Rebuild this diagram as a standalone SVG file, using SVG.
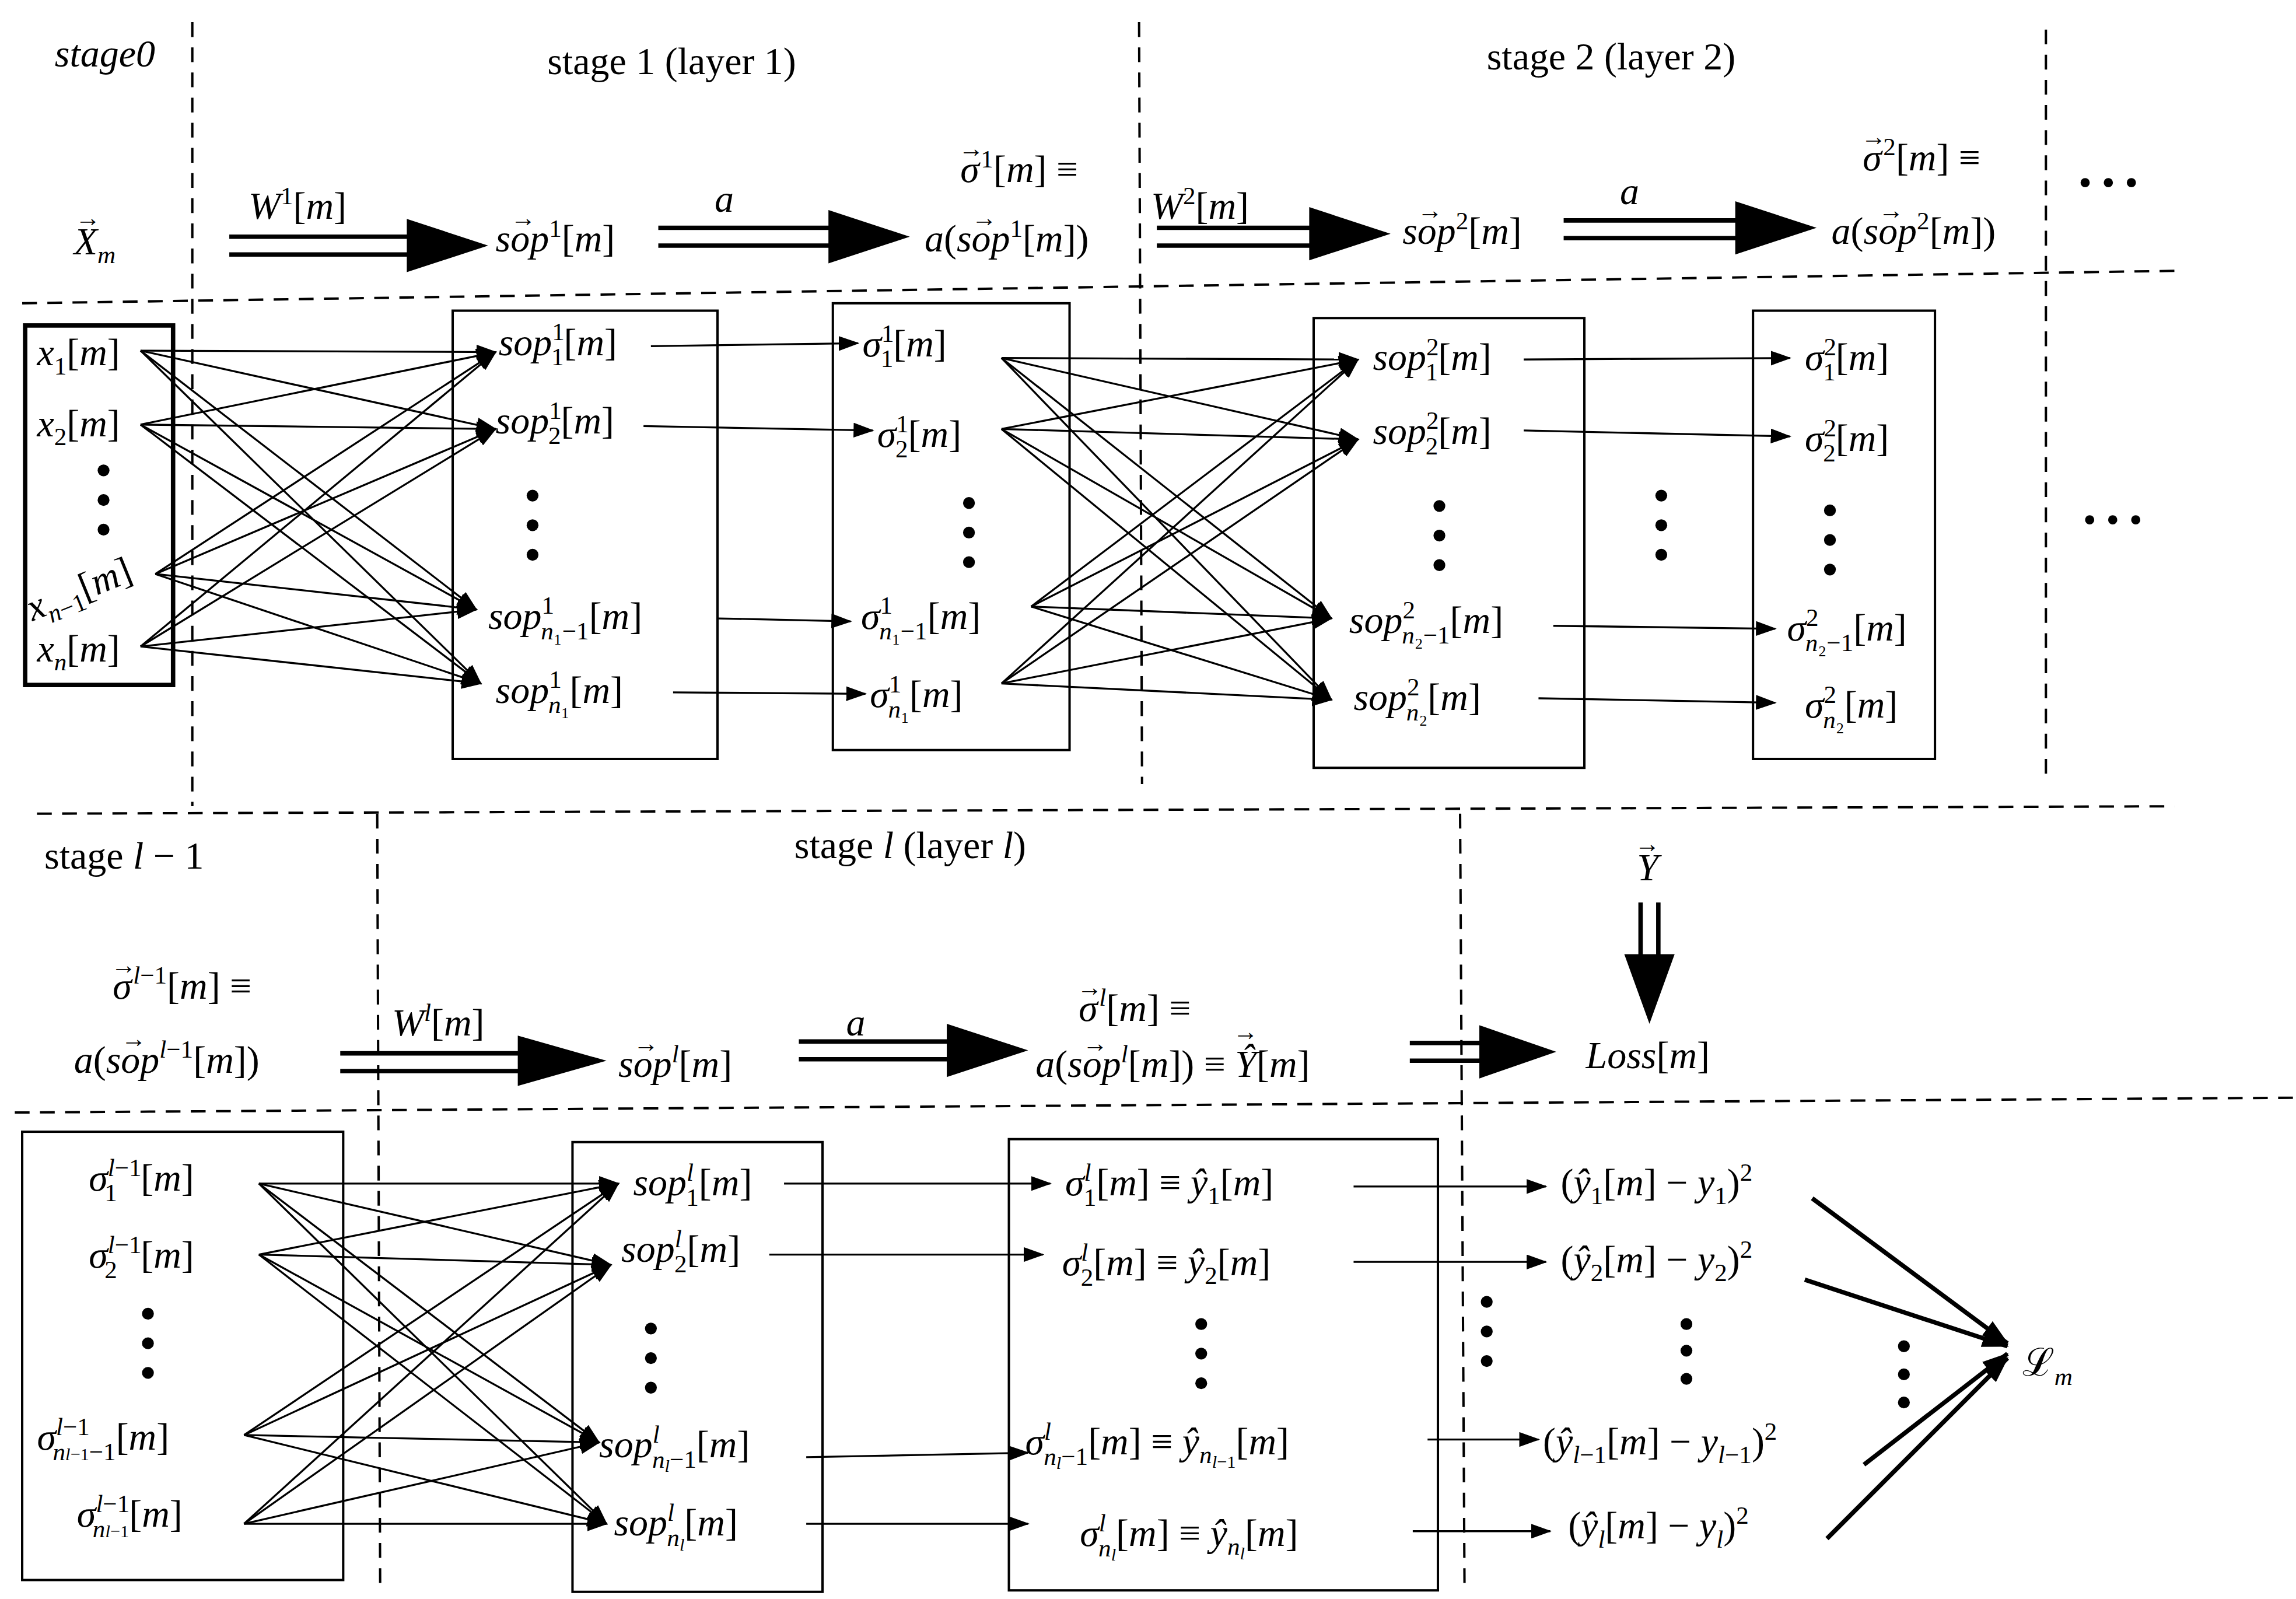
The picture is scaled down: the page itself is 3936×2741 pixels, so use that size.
<svg xmlns="http://www.w3.org/2000/svg" width="3936" height="2741" viewBox="0 0 3936 2741">
<style>
text{font-family:"Liberation Serif",serif;font-size:26px;fill:#000}
.i{font-style:italic}
.s{font-size:17px}
.v{font-size:17px;font-style:normal}
.d{stroke:#000;stroke-width:1.6;stroke-dasharray:10 7;fill:none}
.b{fill:none;stroke:#000;stroke-width:1.6}
.c line{stroke:#000;stroke-width:1.3;marker-end:url(#ah)}
.dl{stroke:#000;stroke-width:3;fill:none}
.k line{stroke:#000;stroke-width:3;marker-end:url(#ah2)}
</style>
<defs>
<marker id="ah" markerWidth="14" markerHeight="10" refX="13" refY="5" orient="auto" markerUnits="userSpaceOnUse"><path d="M0,0 L14,5 L0,10 Z"/></marker>
<marker id="ah2" markerWidth="18" markerHeight="12" refX="17" refY="6" orient="auto" markerUnits="userSpaceOnUse"><path d="M0,0 L18,6 L0,12 Z"/></marker>
</defs>
<rect width="3936" height="2741" fill="#fff"/>
<g transform="scale(2.536)">
<g id="grid">
<line class="d" x1="130" y1="15" x2="130" y2="545"/>
<line class="d" x1="770" y1="15" x2="772" y2="530"/>
<line class="d" x1="1383" y1="20" x2="1383" y2="530"/>
<line class="d" x1="15" y1="205" x2="1475" y2="183"/>
<line class="d" x1="25" y1="550" x2="1470" y2="545"/>
<line class="d" x1="255" y1="550" x2="257" y2="1075"/>
<line class="d" x1="987" y1="550" x2="990" y2="1075"/>
<line class="d" x1="10" y1="752" x2="1550" y2="742"/>
</g>
<g id="labels">
<text x="37" y="45" class="i">stage0</text>
<text x="370" y="50">stage 1 (layer 1)</text>
<text x="1005" y="47">stage 2 (layer 2)</text>
<text x="50" y="172" class="i">X<tspan class="v" dx="-15" dy="-19">→</tspan><tspan class="s" dx="-2" dy="25">m</tspan></text>
<text x="168" y="148" class="i">W<tspan class="s" dy="-10" font-style="normal">1</tspan><tspan dy="10" font-style="normal">[</tspan>m<tspan font-style="normal">]</tspan></text>
<text x="335" y="170" class="i">so<tspan class="v" dx="-13" dy="-17">→</tspan><tspan dx="-4" dy="17">p</tspan><tspan class="s" dy="-10" font-style="normal">1</tspan><tspan dy="10" font-style="normal">[</tspan>m<tspan font-style="normal">]</tspan></text>
<text x="483" y="143" class="i">a</text>
<text x="648" y="123" class="i">σ<tspan class="v" dx="-14" dy="-17">→</tspan><tspan class="s" dx="-2" dy="7" font-style="normal">1</tspan><tspan dy="10" font-style="normal">[</tspan>m<tspan font-style="normal">] ≡</tspan></text>
<text x="625" y="170" class="i">a<tspan font-style="normal">(</tspan>so<tspan class="v" dx="-13" dy="-17">→</tspan><tspan dx="-4" dy="17">p</tspan><tspan class="s" dy="-10" font-style="normal">1</tspan><tspan dy="10" font-style="normal">[</tspan>m<tspan font-style="normal">])</tspan></text>
<text x="778" y="148" class="i">W<tspan class="s" dy="-10" font-style="normal">2</tspan><tspan dy="10" font-style="normal">[</tspan>m<tspan font-style="normal">]</tspan></text>
<text x="948" y="165" class="i">so<tspan class="v" dx="-13" dy="-17">→</tspan><tspan dx="-4" dy="17">p</tspan><tspan class="s" dy="-10" font-style="normal">2</tspan><tspan dy="10" font-style="normal">[</tspan>m<tspan font-style="normal">]</tspan></text>
<text x="1095" y="138" class="i">a</text>
<text x="1258" y="115" class="i">σ<tspan class="v" dx="-14" dy="-17">→</tspan><tspan class="s" dx="-2" dy="7" font-style="normal">2</tspan><tspan dy="10" font-style="normal">[</tspan>m<tspan font-style="normal">] ≡</tspan></text>
<text x="1238" y="165" class="i">a<tspan font-style="normal">(</tspan>so<tspan class="v" dx="-13" dy="-17">→</tspan><tspan dx="-4" dy="17">p</tspan><tspan class="s" dy="-10" font-style="normal">2</tspan><tspan dy="10" font-style="normal">[</tspan>m<tspan font-style="normal">])</tspan></text>
<text x="1405" y="132" font-size="40">• • •</text>
<text x="1408" y="360" font-size="40">• • •</text>
<text x="30" y="587">stage <tspan class="i">l</tspan> − 1</text>
<text x="537" y="580">stage <tspan class="i">l</tspan> (layer <tspan class="i">l</tspan>)</text>
<text x="1105" y="595" class="i">Y<tspan class="v" dx="-16" dy="-19">→</tspan></text>
<text x="75" y="675" class="i">σ<tspan class="v" dx="-14" dy="-17">→</tspan><tspan class="s" dx="-2" dy="7">l</tspan><tspan class="s" font-style="normal">−1</tspan><tspan dy="10" font-style="normal">[</tspan>m<tspan font-style="normal">] ≡</tspan></text>
<text x="50" y="725" class="i">a<tspan font-style="normal">(</tspan>so<tspan class="v" dx="-13" dy="-17">→</tspan><tspan dx="-4" dy="17">p</tspan><tspan class="s" dy="-10">l</tspan><tspan class="s" font-style="normal">−1</tspan><tspan dy="10" font-style="normal">[</tspan>m<tspan font-style="normal">])</tspan></text>
<text x="265" y="700" class="i">W<tspan class="s" dy="-10">l</tspan><tspan dy="10" font-style="normal">[</tspan>m<tspan font-style="normal">]</tspan></text>
<text x="418" y="728" class="i">so<tspan class="v" dx="-13" dy="-17">→</tspan><tspan dx="-4" dy="17">p</tspan><tspan class="s" dy="-10">l</tspan><tspan dy="10" font-style="normal">[</tspan>m<tspan font-style="normal">]</tspan></text>
<text x="572" y="700" class="i">a</text>
<text x="728" y="690" class="i">σ<tspan class="v" dx="-14" dy="-17">→</tspan><tspan class="s" dx="-2" dy="7">l</tspan><tspan dy="10" font-style="normal">[</tspan>m<tspan font-style="normal">] ≡</tspan></text>
<text x="700" y="728" class="i">a<tspan font-style="normal">(</tspan>so<tspan class="v" dx="-13" dy="-17">→</tspan><tspan dx="-4" dy="17">p</tspan><tspan class="s" dy="-10">l</tspan><tspan dy="10" font-style="normal">[</tspan>m<tspan font-style="normal">]) ≡ </tspan>Ŷ<tspan class="v" dx="-16" dy="-25">→</tspan><tspan dx="-1" dy="25" font-style="normal">[</tspan>m<tspan font-style="normal">]</tspan></text>
<text x="1072" y="722" class="i">Loss<tspan font-style="normal">[</tspan>m<tspan font-style="normal">]</tspan></text>
</g>
<g id="dots">
<circle cx="70" cy="318" r="4"/><circle cx="70" cy="338" r="4"/><circle cx="70" cy="358" r="4"/>
<circle cx="360" cy="335" r="4"/><circle cx="360" cy="355" r="4"/><circle cx="360" cy="375" r="4"/>
<circle cx="655" cy="340" r="4"/><circle cx="655" cy="360" r="4"/><circle cx="655" cy="380" r="4"/>
<circle cx="973" cy="342" r="4"/><circle cx="973" cy="362" r="4"/><circle cx="973" cy="382" r="4"/>
<circle cx="1123" cy="335" r="4"/><circle cx="1123" cy="355" r="4"/><circle cx="1123" cy="375" r="4"/>
<circle cx="1237" cy="345" r="4"/><circle cx="1237" cy="365" r="4"/><circle cx="1237" cy="385" r="4"/>
<circle cx="100" cy="888" r="4"/><circle cx="100" cy="908" r="4"/><circle cx="100" cy="928" r="4"/>
<circle cx="440" cy="898" r="4"/><circle cx="440" cy="918" r="4"/><circle cx="440" cy="938" r="4"/>
<circle cx="812" cy="895" r="4"/><circle cx="812" cy="915" r="4"/><circle cx="812" cy="935" r="4"/>
<circle cx="1005" cy="880" r="4"/><circle cx="1005" cy="900" r="4"/><circle cx="1005" cy="920" r="4"/>
<circle cx="1140" cy="895" r="4"/><circle cx="1140" cy="913" r="4"/><circle cx="1140" cy="932" r="4"/>
<circle cx="1287" cy="910" r="4"/><circle cx="1287" cy="929" r="4"/><circle cx="1287" cy="948" r="4"/>
</g>
<g id="box0"><rect x="17" y="220" width="100" height="243" fill="none" stroke="#000" stroke-width="3"/>
<text x="25" y="247" class="i">x<tspan class="s" dy="6" font-style="normal">1</tspan><tspan dy="-6" font-style="normal">[</tspan>m<tspan font-style="normal">]</tspan></text>
<text x="25" y="295" class="i">x<tspan class="s" dy="6" font-style="normal">2</tspan><tspan dy="-6" font-style="normal">[</tspan>m<tspan font-style="normal">]</tspan></text>
<text x="22" y="420" class="i" transform="rotate(-22 22 420)">x<tspan class="s" dy="6">n</tspan><tspan class="s" font-style="normal">−1</tspan><tspan dy="-6" font-style="normal">[</tspan>m<tspan font-style="normal">]</tspan></text>
<text x="25" y="447" class="i">x<tspan class="s" dy="6">n</tspan><tspan dy="-6" font-style="normal">[</tspan>m<tspan font-style="normal">]</tspan></text>
</g>
<g id="box1"><rect class="b" x="306" y="210" width="179" height="303"/>
<text x="337" y="240" class="i">sop<tspan class="s" dy="-10" font-style="normal">1</tspan><tspan class="s" dx="-9" dy="17" font-style="normal">1</tspan><tspan dy="-7" font-style="normal">[</tspan>m<tspan font-style="normal">]</tspan></text>
<text x="335" y="293" class="i">sop<tspan class="s" dy="-10" font-style="normal">1</tspan><tspan class="s" dx="-9" dy="17" font-style="normal">2</tspan><tspan dy="-7" font-style="normal">[</tspan>m<tspan font-style="normal">]</tspan></text>
<text x="330" y="425" class="i">sop<tspan class="s" dy="-10" font-style="normal">1</tspan><tspan class="s" dx="-9" dy="17">n</tspan><tspan class="s" font-style="normal">₁−1</tspan><tspan dy="-7" font-style="normal">[</tspan>m<tspan font-style="normal">]</tspan></text>
<text x="335" y="475" class="i">sop<tspan class="s" dy="-10" font-style="normal">1</tspan><tspan class="s" dx="-9" dy="17">n</tspan><tspan class="s" font-style="normal">₁</tspan><tspan dy="-7" font-style="normal">[</tspan>m<tspan font-style="normal">]</tspan></text>
</g>
<g id="box2"><rect class="b" x="563" y="205" width="160" height="302"/>
<text x="583" y="241" class="i">σ<tspan class="s" dy="-10" font-style="normal">1</tspan><tspan class="s" dx="-9" dy="17" font-style="normal">1</tspan><tspan dy="-7" font-style="normal">[</tspan>m<tspan font-style="normal">]</tspan></text>
<text x="593" y="302" class="i">σ<tspan class="s" dy="-10" font-style="normal">1</tspan><tspan class="s" dx="-9" dy="17" font-style="normal">2</tspan><tspan dy="-7" font-style="normal">[</tspan>m<tspan font-style="normal">]</tspan></text>
<text x="582" y="425" class="i">σ<tspan class="s" dy="-10" font-style="normal">1</tspan><tspan class="s" dx="-9" dy="17">n</tspan><tspan class="s" font-style="normal">₁−1</tspan><tspan dy="-7" font-style="normal">[</tspan>m<tspan font-style="normal">]</tspan></text>
<text x="588" y="478" class="i">σ<tspan class="s" dy="-10" font-style="normal">1</tspan><tspan class="s" dx="-9" dy="17">n</tspan><tspan class="s" font-style="normal">₁</tspan><tspan dy="-7" font-style="normal">[</tspan>m<tspan font-style="normal">]</tspan></text>
</g>
<g id="box3"><rect class="b" x="888" y="215" width="183" height="304"/>
<text x="928" y="250" class="i">sop<tspan class="s" dy="-10" font-style="normal">2</tspan><tspan class="s" dx="-9" dy="17" font-style="normal">1</tspan><tspan dy="-7" font-style="normal">[</tspan>m<tspan font-style="normal">]</tspan></text>
<text x="928" y="300" class="i">sop<tspan class="s" dy="-10" font-style="normal">2</tspan><tspan class="s" dx="-9" dy="17" font-style="normal">2</tspan><tspan dy="-7" font-style="normal">[</tspan>m<tspan font-style="normal">]</tspan></text>
<text x="912" y="428" class="i">sop<tspan class="s" dy="-10" font-style="normal">2</tspan><tspan class="s" dx="-9" dy="17">n</tspan><tspan class="s" font-style="normal">₂−1</tspan><tspan dy="-7" font-style="normal">[</tspan>m<tspan font-style="normal">]</tspan></text>
<text x="915" y="480" class="i">sop<tspan class="s" dy="-10" font-style="normal">2</tspan><tspan class="s" dx="-9" dy="17">n</tspan><tspan class="s" font-style="normal">₂</tspan><tspan dy="-7" font-style="normal">[</tspan>m<tspan font-style="normal">]</tspan></text>
</g>
<g id="box4"><rect class="b" x="1185" y="210" width="123" height="303"/>
<text x="1220" y="250" class="i">σ<tspan class="s" dy="-10" font-style="normal">2</tspan><tspan class="s" dx="-9" dy="17" font-style="normal">1</tspan><tspan dy="-7" font-style="normal">[</tspan>m<tspan font-style="normal">]</tspan></text>
<text x="1220" y="305" class="i">σ<tspan class="s" dy="-10" font-style="normal">2</tspan><tspan class="s" dx="-9" dy="17" font-style="normal">2</tspan><tspan dy="-7" font-style="normal">[</tspan>m<tspan font-style="normal">]</tspan></text>
<text x="1208" y="433" class="i">σ<tspan class="s" dy="-10" font-style="normal">2</tspan><tspan class="s" dx="-9" dy="17">n</tspan><tspan class="s" font-style="normal">₂−1</tspan><tspan dy="-7" font-style="normal">[</tspan>m<tspan font-style="normal">]</tspan></text>
<text x="1220" y="485" class="i">σ<tspan class="s" dy="-10" font-style="normal">2</tspan><tspan class="s" dx="-9" dy="17">n</tspan><tspan class="s" font-style="normal">₂</tspan><tspan dy="-7" font-style="normal">[</tspan>m<tspan font-style="normal">]</tspan></text>
</g>
<g id="box5"><rect class="b" x="15" y="765" width="217" height="303"/>
<text x="60" y="805" class="i">σ<tspan class="s" dy="-10">l</tspan><tspan class="s" font-style="normal">−1</tspan><tspan class="s" dx="-25" dy="17" font-style="normal">1</tspan><tspan dx="16" dy="-7" font-style="normal">[</tspan>m<tspan font-style="normal">]</tspan></text>
<text x="60" y="857" class="i">σ<tspan class="s" dy="-10">l</tspan><tspan class="s" font-style="normal">−1</tspan><tspan class="s" dx="-25" dy="17" font-style="normal">2</tspan><tspan dx="16" dy="-7" font-style="normal">[</tspan>m<tspan font-style="normal">]</tspan></text>
<text x="25" y="980" class="i">σ<tspan class="s" dy="-10">l</tspan><tspan class="s" font-style="normal">−1</tspan><tspan class="s" dx="-25" dy="17">n</tspan><tspan class="i" font-size="12">l</tspan><tspan font-style="normal" font-size="12">−1</tspan><tspan class="s" font-style="normal">−1</tspan><tspan dy="-7" font-style="normal">[</tspan>m<tspan font-style="normal">]</tspan></text>
<text x="52" y="1032" class="i">σ<tspan class="s" dy="-10">l</tspan><tspan class="s" font-style="normal">−1</tspan><tspan class="s" dx="-25" dy="17">n</tspan><tspan class="i" font-size="12">l</tspan><tspan font-style="normal" font-size="12">−1</tspan><tspan dy="-7" font-style="normal">[</tspan>m<tspan font-style="normal">]</tspan></text>
</g>
<g id="box6"><rect class="b" x="387" y="772" width="169" height="304"/>
<text x="428" y="808" class="i">sop<tspan class="s" dy="-10">l</tspan><tspan class="s" dx="-5" dy="17" font-style="normal">1</tspan><tspan dy="-7" font-style="normal">[</tspan>m<tspan font-style="normal">]</tspan></text>
<text x="420" y="853" class="i">sop<tspan class="s" dy="-10">l</tspan><tspan class="s" dx="-5" dy="17" font-style="normal">2</tspan><tspan dy="-7" font-style="normal">[</tspan>m<tspan font-style="normal">]</tspan></text>
<text x="405" y="985" class="i">sop<tspan class="s" dy="-10">l</tspan><tspan class="s" dx="-5" dy="17">n</tspan><tspan font-size="12" dy="3">l</tspan><tspan class="s" font-style="normal" dy="-3">−1</tspan><tspan dy="-7" font-style="normal">[</tspan>m<tspan font-style="normal">]</tspan></text>
<text x="415" y="1038" class="i">sop<tspan class="s" dy="-10">l</tspan><tspan class="s" dx="-5" dy="17">n</tspan><tspan font-size="12" dy="3">l</tspan><tspan dy="-10" font-style="normal">[</tspan>m<tspan font-style="normal">]</tspan></text>
</g>
<g id="box7"><rect class="b" x="682" y="770" width="290" height="305"/>
<text x="720" y="808" class="i">σ<tspan class="s" dy="-10">l</tspan><tspan class="s" dx="-5" dy="17" font-style="normal">1</tspan><tspan dy="-7" font-style="normal">[</tspan>m<tspan font-style="normal">] ≡ </tspan>ŷ<tspan class="s" dy="6" font-style="normal">1</tspan><tspan dy="-6" font-style="normal">[</tspan>m<tspan font-style="normal">]</tspan></text>
<text x="718" y="862" class="i">σ<tspan class="s" dy="-10">l</tspan><tspan class="s" dx="-5" dy="17" font-style="normal">2</tspan><tspan dy="-7" font-style="normal">[</tspan>m<tspan font-style="normal">] ≡ </tspan>ŷ<tspan class="s" dy="6" font-style="normal">2</tspan><tspan dy="-6" font-style="normal">[</tspan>m<tspan font-style="normal">]</tspan></text>
<text x="693" y="983" class="i">σ<tspan class="s" dy="-10">l</tspan><tspan class="s" dx="-5" dy="17">n</tspan><tspan font-size="12" dy="3">l</tspan><tspan class="s" font-style="normal" dy="-3">−1</tspan><tspan dy="-7" font-style="normal">[</tspan>m<tspan font-style="normal">] ≡ </tspan>ŷ<tspan class="s" dy="6">n</tspan><tspan font-size="12" dy="3">l</tspan><tspan font-size="12" font-style="normal">−1</tspan><tspan dy="-9" font-style="normal">[</tspan>m<tspan font-style="normal">]</tspan></text>
<text x="730" y="1045" class="i">σ<tspan class="s" dy="-10">l</tspan><tspan class="s" dx="-5" dy="17">n</tspan><tspan font-size="12" dy="3">l</tspan><tspan dy="-10" font-style="normal">[</tspan>m<tspan font-style="normal">] ≡ </tspan>ŷ<tspan class="s" dy="6">n</tspan><tspan font-size="12" dy="3">l</tspan><tspan dy="-9" font-style="normal">[</tspan>m<tspan font-style="normal">]</tspan></text>
</g>
<g id="losses">
<text x="1055" y="808"><tspan>(</tspan><tspan class="i">ŷ</tspan><tspan class="s" dy="6">1</tspan><tspan dy="-6">[</tspan><tspan class="i">m</tspan>] − <tspan class="i">y</tspan><tspan class="s" dy="6">1</tspan><tspan dy="-6">)</tspan><tspan class="s" dy="-10">2</tspan></text>
<text x="1055" y="860"><tspan>(</tspan><tspan class="i">ŷ</tspan><tspan class="s" dy="6">2</tspan><tspan dy="-6">[</tspan><tspan class="i">m</tspan>] − <tspan class="i">y</tspan><tspan class="s" dy="6">2</tspan><tspan dy="-6">)</tspan><tspan class="s" dy="-10">2</tspan></text>
<text x="1043" y="983"><tspan>(</tspan><tspan class="i">ŷ</tspan><tspan class="s i" dy="6">l</tspan><tspan class="s">−1</tspan><tspan dy="-6">[</tspan><tspan class="i">m</tspan>] − <tspan class="i">y</tspan><tspan class="s i" dy="6">l</tspan><tspan class="s">−1</tspan><tspan dy="-6">)</tspan><tspan class="s" dy="-10">2</tspan></text>
<text x="1060" y="1040"><tspan>(</tspan><tspan class="i">ŷ</tspan><tspan class="s i" dy="6">l</tspan><tspan dy="-6">[</tspan><tspan class="i">m</tspan>] − <tspan class="i">y</tspan><tspan class="s i" dy="6">l</tspan><tspan dy="-6">)</tspan><tspan class="s" dy="-10">2</tspan></text>
</g>
<g id="Lm"><text x="1367" y="930" font-size="28">ℒ<tspan class="s i" dy="6">m</tspan></text></g>
<g id="connectors">
<g class="c">
<line x1="95" y1="237" x2="335" y2="238"/><line x1="95" y1="237" x2="335" y2="290"/><line x1="95" y1="237" x2="322" y2="412"/><line x1="95" y1="237" x2="325" y2="462"/>
<line x1="95" y1="287" x2="335" y2="238"/><line x1="95" y1="287" x2="335" y2="290"/><line x1="95" y1="287" x2="322" y2="412"/><line x1="95" y1="287" x2="325" y2="462"/>
<line x1="105" y1="388" x2="335" y2="238"/><line x1="105" y1="388" x2="335" y2="290"/><line x1="105" y1="388" x2="322" y2="412"/><line x1="105" y1="388" x2="325" y2="462"/>
<line x1="95" y1="437" x2="335" y2="238"/><line x1="95" y1="437" x2="335" y2="290"/><line x1="95" y1="437" x2="322" y2="412"/><line x1="95" y1="437" x2="325" y2="462"/>
<line x1="440" y1="234" x2="580" y2="232"/><line x1="435" y1="288" x2="590" y2="291"/><line x1="485" y1="418" x2="575" y2="420"/><line x1="455" y1="468" x2="585" y2="469"/>
<line x1="677" y1="242" x2="918" y2="243"/><line x1="677" y1="242" x2="918" y2="297"/><line x1="677" y1="242" x2="900" y2="418"/><line x1="677" y1="242" x2="900" y2="473"/>
<line x1="677" y1="290" x2="918" y2="243"/><line x1="677" y1="290" x2="918" y2="297"/><line x1="677" y1="290" x2="900" y2="418"/><line x1="677" y1="290" x2="900" y2="473"/>
<line x1="697" y1="410" x2="918" y2="243"/><line x1="697" y1="410" x2="918" y2="297"/><line x1="697" y1="410" x2="900" y2="418"/><line x1="697" y1="410" x2="900" y2="473"/>
<line x1="677" y1="462" x2="918" y2="243"/><line x1="677" y1="462" x2="918" y2="297"/><line x1="677" y1="462" x2="900" y2="418"/><line x1="677" y1="462" x2="900" y2="473"/>
<line x1="1030" y1="243" x2="1210" y2="242"/><line x1="1030" y1="291" x2="1210" y2="295"/><line x1="1050" y1="423" x2="1200" y2="425"/><line x1="1040" y1="472" x2="1200" y2="475"/>
<line x1="175" y1="800" x2="418" y2="800"/><line x1="175" y1="800" x2="413" y2="855"/><line x1="175" y1="800" x2="405" y2="975"/><line x1="175" y1="800" x2="410" y2="1030"/>
<line x1="175" y1="848" x2="418" y2="800"/><line x1="175" y1="848" x2="413" y2="855"/><line x1="175" y1="848" x2="405" y2="975"/><line x1="175" y1="848" x2="410" y2="1030"/>
<line x1="165" y1="970" x2="418" y2="800"/><line x1="165" y1="970" x2="413" y2="855"/><line x1="165" y1="970" x2="405" y2="975"/><line x1="165" y1="970" x2="410" y2="1030"/>
<line x1="165" y1="1030" x2="418" y2="800"/><line x1="165" y1="1030" x2="413" y2="855"/><line x1="165" y1="1030" x2="405" y2="975"/><line x1="165" y1="1030" x2="410" y2="1030"/>
<line x1="530" y1="800" x2="710" y2="800"/><line x1="520" y1="848" x2="705" y2="848"/><line x1="545" y1="985" x2="695" y2="982"/><line x1="545" y1="1030" x2="695" y2="1030"/>
<line x1="915" y1="802" x2="1045" y2="802"/><line x1="915" y1="853" x2="1045" y2="853"/><line x1="965" y1="973" x2="1040" y2="973"/><line x1="955" y1="1035" x2="1048" y2="1035"/>
</g>
<g class="k">
<line x1="1225" y1="810" x2="1357" y2="908"/><line x1="1220" y1="865" x2="1357" y2="910"/><line x1="1260" y1="990" x2="1357" y2="915"/><line x1="1235" y1="1040" x2="1357" y2="918"/>
</g>
<g id="bigarrows">
<path class="dl" d="M155,160 H280 M155,172 H280"/><path d="M275,148 L330,166 L275,184 Z"/>
<path class="dl" d="M445,154 H565 M445,166 H565"/><path d="M560,142 L615,160 L560,178 Z"/>
<path class="dl" d="M782,154 H890 M782,166 H890"/><path d="M885,140 L940,158 L885,176 Z"/>
<path class="dl" d="M1057,149 H1178 M1057,161 H1178"/><path d="M1173,136 L1228,154 L1173,172 Z"/>
<path class="dl" d="M230,712 H355 M230,724 H355"/><path d="M350,700 L410,717 L350,734 Z"/>
<path class="dl" d="M540,704 H645 M540,716 H645"/><path d="M640,692 L695,710 L640,728 Z"/>
<path class="dl" d="M953,705 H1005 M953,717 H1005"/><path d="M1000,693 L1052,711 L1000,729 Z"/>
<path class="dl" d="M1109,610 V650 M1121,610 V650"/><path d="M1098,645 L1115,692 L1132,645 Z"/>
</g>
</g>
</g>
</svg>
